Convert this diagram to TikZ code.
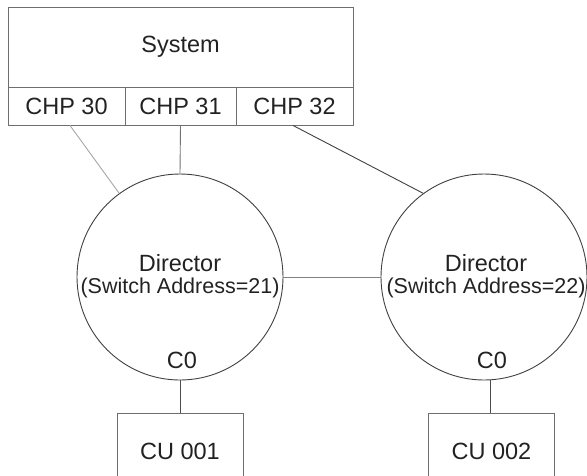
\documentclass[tikz,border=0pt]{standalone}
\usepackage{fontspec}
\setmainfont{Liberation Sans}
\usepackage{tikz}
\usetikzlibrary{shapes,positioning}
\definecolor{boxgray}{HTML}{6E6E6E}
\definecolor{txtgray}{HTML}{222222}
\tikzstyle{box} = [draw=boxgray, line width=0.9pt, inner sep=0pt, text=txtgray, font=\fontsize{23.5}{26}\selectfont]
\tikzstyle{director} = [draw=black!75, circle, line width=0.9pt, minimum size=206pt, inner sep=0pt]
\tikzstyle{lbl} = [text=txtgray, font=\fontsize{23.5}{26}\selectfont, inner sep=0pt]
\tikzstyle{link} = [line width=0.9pt]

\begin{document}
\begin{tikzpicture}[x=1pt,y=-1pt]
\useasboundingbox (0,0) rectangle (587,475);
\clip (0,0) rectangle (587,475);
% system and channel paths
\node[box, minimum width=345pt, minimum height=80pt] (sys) at (180.5,47) {System};
\node[box, minimum width=117pt, minimum height=38pt] (chp30) at (66.5,106) {CHP 30};
\node[box, minimum width=111pt, minimum height=38pt] (chp31) at (180.5,106) {CHP 31};
\node[box, minimum width=117pt, minimum height=38pt] (chp32) at (294.5,106) {CHP 32};
% directors
\node[director] (d1) at (180,277) {};
\node[director] (d2) at (484,277) {};
\node[lbl] (d1name) at (180,263) {Director};
\node[lbl, font=\fontsize{21.5}{24}\selectfont] (d1addr) at (180,288) {(Switch Address=21)};
\node[lbl] (d1port) at (182,360) {C0};
\node[lbl] (d2name) at (486,263) {Director};
\node[lbl, font=\fontsize{21.5}{24}\selectfont] (d2addr) at (486,288) {(Switch Address=22)};
\node[lbl] (d2port) at (492,360) {C0};
% control units
\node[box, minimum width=126pt, minimum height=77pt] (cu1) at (180,451.5) {CU 001};
\node[box, minimum width=126pt, minimum height=77pt] (cu2) at (491.5,451.5) {CU 002};
% links
\draw[link, color=black!35] ([xshift=3.5pt]chp30.south) -- (d1.126);
\draw[link, color=black!55] (chp31.south) -- (d1.north);
\draw[link, color=black!75] ([xshift=-1.5pt]chp32.south) -- (d2.126);
\draw[link, color=black!50] (d1.east) -- (d2.west);
\draw[link, color=black!70] (cu1.north) -- (d1.south);
\draw[link, color=black!70] ([xshift=-1.5pt]cu2.north) -- ([xshift=-1.5pt]cu2.north |- d2.south);
\end{tikzpicture}
\end{document}
